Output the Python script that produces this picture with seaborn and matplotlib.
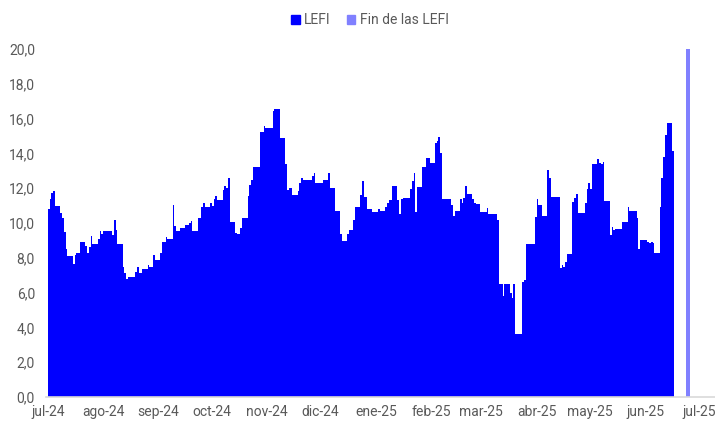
import matplotlib
matplotlib.use("Agg")

import matplotlib.dates as mdates
import matplotlib.pyplot as plt
import pandas as pd
import seaborn as sns
from matplotlib.patches import Patch
from matplotlib.ticker import FuncFormatter

# LEFI rate: each entry is the day the value changed, the value holds until the next entry
lefi_dates = [
    "2024-07-01", "2024-07-02", "2024-07-03", "2024-07-04", "2024-07-05", "2024-07-08",
    "2024-07-09", "2024-07-10", "2024-07-11", "2024-07-12", "2024-07-15", "2024-07-16",
    "2024-07-17", "2024-07-19", "2024-07-22", "2024-07-23", "2024-07-24", "2024-07-25",
    "2024-07-26", "2024-07-29", "2024-07-30", "2024-07-31", "2024-08-01", "2024-08-06",
    "2024-08-07", "2024-08-08", "2024-08-09", "2024-08-12", "2024-08-13", "2024-08-14",
    "2024-08-15", "2024-08-19", "2024-08-20", "2024-08-21", "2024-08-23", "2024-08-26",
    "2024-08-27", "2024-08-29", "2024-08-30", "2024-09-02", "2024-09-03", "2024-09-05",
    "2024-09-06", "2024-09-09", "2024-09-10", "2024-09-11", "2024-09-13", "2024-09-16",
    "2024-09-18", "2024-09-19", "2024-09-20", "2024-09-23", "2024-09-25", "2024-09-26",
    "2024-09-27", "2024-09-30", "2024-10-01", "2024-10-02", "2024-10-03", "2024-10-04",
    "2024-10-07", "2024-10-08", "2024-10-09", "2024-10-10", "2024-10-11", "2024-10-14",
    "2024-10-15", "2024-10-17", "2024-10-18", "2024-10-21", "2024-10-22", "2024-10-23",
    "2024-10-24", "2024-10-28", "2024-10-30", "2024-10-31", "2024-11-04", "2024-11-05",
    "2024-11-08", "2024-11-11", "2024-11-12", "2024-11-13", "2024-11-15", "2024-11-18",
    "2024-11-19", "2024-11-20", "2024-11-21", "2024-11-26", "2024-11-27", "2024-11-28",
    "2024-12-02", "2024-12-05", "2024-12-06", "2024-12-09", "2024-12-12", "2024-12-13",
    "2024-12-16", "2024-12-17", "2024-12-19", "2024-12-20", "2024-12-23", "2024-12-24",
    "2024-12-25", "2024-12-27", "2024-12-30", "2025-01-02", "2025-01-03", "2025-01-06",
    "2025-01-07", "2025-01-08", "2025-01-10", "2025-01-13", "2025-01-14", "2025-01-15",
    "2025-01-16", "2025-01-20", "2025-01-21", "2025-01-22", "2025-01-23", "2025-01-24",
    "2025-01-27", "2025-01-29", "2025-01-31", "2025-02-03", "2025-02-04", "2025-02-05",
    "2025-02-06", "2025-02-07", "2025-02-12", "2025-02-13", "2025-02-14", "2025-02-17",
    "2025-02-18", "2025-02-19", "2025-02-20", "2025-02-21", "2025-02-24", "2025-02-25",
    "2025-02-26", "2025-02-28", "2025-03-04", "2025-03-05", "2025-03-10", "2025-03-11",
    "2025-03-13", "2025-03-14", "2025-03-17", "2025-03-18", "2025-03-19", "2025-03-20",
    "2025-03-24", "2025-03-25", "2025-03-26", "2025-03-31", "2025-04-01", "2025-04-02",
    "2025-04-04", "2025-04-07", "2025-04-08", "2025-04-09", "2025-04-14", "2025-04-15",
    "2025-04-16", "2025-04-17", "2025-04-18", "2025-04-21", "2025-04-22", "2025-04-23",
    "2025-04-24", "2025-04-28", "2025-04-29", "2025-04-30", "2025-05-01", "2025-05-02",
    "2025-05-05", "2025-05-06", "2025-05-07", "2025-05-08", "2025-05-09", "2025-05-12",
    "2025-05-13", "2025-05-14", "2025-05-15", "2025-05-19", "2025-05-22", "2025-05-23",
    "2025-05-27", "2025-05-28", "2025-05-29", "2025-06-02", "2025-06-03", "2025-06-04",
    "2025-06-05", "2025-06-06", "2025-06-09", "2025-06-10", "2025-06-11", "2025-06-12",
    "2025-06-13", "2025-06-16",
]
lefi_values = [
    10.8, 11.4, 11.7, 11.85, 10.95, 10.6,
    10.3, 9.5, 8.5, 8.1, 7.65, 8.15,
    8.25, 8.9, 8.65, 8.3, 8.6, 9.25,
    8.8, 9.1, 9.55, 9.35, 9.55, 9.3,
    10.15, 9.6, 8.8, 7.45, 7.1, 6.8,
    6.9, 7.2, 7.45, 7.15, 7.35, 7.6,
    7.45, 8.15, 7.9, 8.25, 8.9, 9.2,
    9.1, 11.05, 9.8, 9.55, 9.7, 9.9,
    10.0, 10.1, 9.55, 10.3, 10.9, 11.15,
    10.9, 11.15, 10.98, 11.36, 11.55, 11.32,
    11.9, 12.13, 12.0, 12.6, 10.06, 9.45,
    9.35, 9.7, 10.3, 11.55, 12.2, 12.47,
    13.2, 15.25, 15.57, 15.44, 16.44, 16.53,
    14.87, 13.39, 11.9, 12.03, 11.6, 11.84,
    12.32, 12.57, 12.47, 12.7, 12.86, 12.28,
    12.47, 12.9, 12.0, 10.69, 9.37, 8.95,
    9.35, 9.6, 10.17, 10.9, 11.6, 12.41,
    11.48, 10.82, 10.65, 10.8, 10.71, 10.9,
    11.17, 11.32, 12.14, 11.32, 10.52, 11.4,
    11.44, 11.93, 12.41, 12.9, 10.61, 12.05,
    13.24, 13.72, 13.43, 14.62, 14.71, 14.96,
    14.04, 11.36, 11.03, 10.4, 10.69, 11.36,
    11.13, 11.45, 12.13, 11.65, 11.36, 11.17,
    11.07, 10.65, 10.84, 10.5, 10.17, 6.49,
    5.82, 6.49, 5.96, 5.71, 6.49, 3.6,
    6.6, 6.74, 8.81, 10.36, 11.36, 11.03,
    10.4, 13.05, 12.6, 11.48, 7.4, 7.59,
    7.45, 7.78, 8.22, 11.23, 11.42, 11.67,
    10.56, 11.17, 11.93, 12.28, 11.93, 13.39,
    13.66, 13.47, 13.37, 13.52, 11.26, 9.31,
    9.79, 9.6, 9.67, 10.08, 10.94, 10.69,
    10.27, 8.49, 9.0, 8.89, 8.83, 8.89,
    8.83, 8.29, 10.94, 12.6, 13.77, 15.06,
    15.77, 14.14,
]
lefi_last_day = "2025-06-17"

end_dates = ["2025-06-24"]
end_values = [20.0]
end_last_day = "2025-06-26"

month_ticks = [
    "2024-07-01", "2024-08-01", "2024-09-01", "2024-10-01", "2024-11-01", "2024-12-01",
    "2025-01-01", "2025-02-01", "2025-03-01", "2025-04-01", "2025-05-01", "2025-06-01",
    "2025-07-01",
]
month_labels = [
    "jul-24", "ago-24", "sep-24", "oct-24", "nov-24", "dic-24", "ene-25",
    "feb-25", "mar-25", "abr-25", "may-25", "jun-25", "jul-25",
]

BLUE = "#0000FF"
LIGHT = "#8080FF"
TEXT = "#595959"


def to_num(dates):
    return mdates.date2num(pd.to_datetime(dates))


def step_bars(ax, dates, values, last_day, color):
    starts = to_num(dates)
    edges = list(starts) + [to_num([last_day])[0]]
    # one filled step outline per series, so the daily bars sit flush with no seams
    sns.histplot(
        x=starts,
        weights=values,
        bins=edges,
        stat="count",
        element="step",
        fill=True,
        color=color,
        alpha=1,
        linewidth=0,
        ax=ax,
    )


sns.set_theme(style="white")
plt.rcParams["font.family"] = ["Roboto", "DejaVu Sans"]

fig = plt.figure(figsize=(7.15, 4.21), dpi=100)
ax = fig.add_axes([46 / 715, 24 / 421, 669 / 715, 348 / 421])

step_bars(ax, lefi_dates, lefi_values, lefi_last_day, BLUE)
step_bars(ax, end_dates, end_values, end_last_day, LIGHT)

ax.set_ylim(0, 20)
ax.set_xlim(to_num(["2024-06-30"])[0], to_num(["2025-07-10"])[0])
ax.set_yticks(range(0, 21, 2))
ax.yaxis.set_major_formatter(FuncFormatter(lambda v, _: f"{v:.1f}".replace(".", ",")))
ax.set_xticks(to_num(month_ticks))
ax.set_xticklabels(month_labels)
ax.set_xlabel("")
ax.set_ylabel("")

sns.despine(ax=ax, left=True, top=True, right=True)
ax.spines["bottom"].set_color("#d9d9d9")
ax.spines["bottom"].set_linewidth(1.2)
ax.tick_params(axis="x", length=4, width=1, color="#d9d9d9", labelsize=10, labelcolor=TEXT, pad=2)
ax.tick_params(axis="y", length=0, labelsize=10, labelcolor=TEXT, pad=8)
ax.grid(False)

handles = [
    Patch(facecolor=BLUE, edgecolor=BLUE, label="LEFI"),
    Patch(facecolor=LIGHT, edgecolor=LIGHT, label="Fin de las LEFI"),
]
fig.legend(
    handles=handles,
    loc="center",
    bbox_to_anchor=(370 / 715, 1 - 20 / 421),
    ncol=2,
    frameon=False,
    fontsize=10,
    labelcolor=TEXT,
    handlelength=0.6,
    handleheight=0.6,
    handletextpad=0.3,
    columnspacing=1.2,
)

fig.savefig("out.png", dpi=100)
